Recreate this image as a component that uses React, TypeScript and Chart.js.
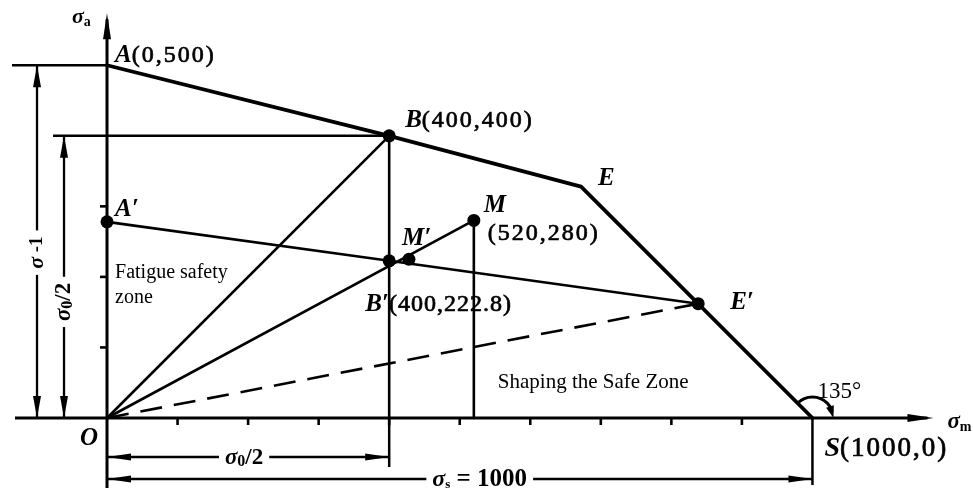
import React, { useEffect, useRef } from 'react';
import { Chart, registerables } from 'chart.js';

Chart.register(...registerables);

// Limit stress diagram: mean stress σm (x) against stress amplitude σa (y), MPa.
// Material limit line A – B – E – S
const limitNames = ['A', 'B', 'E', 'S'];
const limitSm = [0, 400, 672, 1000];
const limitSa = [500, 400, 328, 0];

// Part (reduced) limit line A′ – B′ – E′
const workNames = ['A′', 'B′', 'E′'];
const workSm = [0, 400, 838];
const workSa = [278, 222.8, 162];

// Working point M and its projection M′ on the part limit line
const loadNames = ['M′', 'M'];
const loadSm = [428, 520];
const loadSa = [225, 280];

// Axis tick marks
const xTickValues = [100, 200, 300, 400, 500, 600, 700, 800, 900];
const yTickValues = [100, 200, 300];

const SERIF = '"Liberation Serif", "Times New Roman", serif';
const fItalicBold = (s: number) => `italic bold ${s}px ${SERIF}`;
const fBold = (s: number) => `bold ${s}px ${SERIF}`;
const fReg = (s: number) => `${s}px ${SERIF}`;

type Run = { t: string; font: string; dy?: number; ls?: number; heavy?: boolean };

function runsWidth(ctx: CanvasRenderingContext2D, runs: Run[]) {
  let w = 0;
  for (const r of runs) {
    ctx.font = r.font;
    (ctx as any).letterSpacing = `${r.ls ?? 0}px`;
    w += ctx.measureText(r.t).width;
  }
  return w;
}

function drawRuns(ctx: CanvasRenderingContext2D, x: number, y: number, runs: Run[]) {
  let cx = x;
  for (const r of runs) {
    ctx.font = r.font;
    (ctx as any).letterSpacing = `${r.ls ?? 0}px`;
    ctx.fillText(r.t, cx, y + (r.dy ?? 0));
    if (r.heavy) {
      // slightly heavier strokes for the coordinate numbers
      ctx.lineWidth = 0.7;
      ctx.strokeStyle = '#000';
      ctx.strokeText(r.t, cx, y + (r.dy ?? 0));
    }
    cx += ctx.measureText(r.t).width;
  }
  (ctx as any).letterSpacing = '0px';
}

function arrowHead(
  ctx: CanvasRenderingContext2D,
  tipX: number,
  tipY: number,
  dirX: number,
  dirY: number,
  len = 22,
  half = 4
) {
  const n = Math.hypot(dirX, dirY);
  const ux = dirX / n;
  const uy = dirY / n;
  const bx = tipX - ux * len;
  const by = tipY - uy * len;
  ctx.beginPath();
  ctx.moveTo(tipX, tipY);
  ctx.lineTo(bx - uy * half, by + ux * half);
  ctx.lineTo(bx + uy * half, by - ux * half);
  ctx.closePath();
  ctx.fill();
}

function seg(ctx: CanvasRenderingContext2D, x1: number, y1: number, x2: number, y2: number, w: number) {
  ctx.lineWidth = w;
  ctx.beginPath();
  ctx.moveTo(x1, y1);
  ctx.lineTo(x2, y2);
  ctx.stroke();
}

// Dimension line with arrows at both ends and a label sitting in a gap
function dimension(
  ctx: CanvasRenderingContext2D,
  vertical: boolean,
  fixed: number,
  a: number,
  b: number,
  center: number,
  runs: Run[]
) {
  const w = runsWidth(ctx, runs);
  const g1 = center - w / 2 - 6;
  const g2 = center + w / 2 + 6;
  ctx.lineCap = 'butt';
  if (vertical) {
    seg(ctx, fixed, a, fixed, g1, 2.3);
    seg(ctx, fixed, g2, fixed, b, 2.3);
    arrowHead(ctx, fixed, a, 0, -1, 22, 4);
    arrowHead(ctx, fixed, b, 0, 1, 22, 4);
    ctx.save();
    ctx.translate(fixed, center);
    ctx.rotate(-Math.PI / 2);
    ctx.textBaseline = 'middle';
    drawRuns(ctx, -w / 2, 0, runs);
    ctx.restore();
  } else {
    seg(ctx, a, fixed, g1, fixed, 2.3);
    seg(ctx, g2, fixed, b, fixed, 2.3);
    arrowHead(ctx, a, fixed, -1, 0, 24, 3.5);
    arrowHead(ctx, b, fixed, 1, 0, 24, 3.5);
    ctx.save();
    ctx.textBaseline = 'middle';
    drawRuns(ctx, center - w / 2, fixed + 1, runs);
    ctx.restore();
  }
}

const diagramPlugin = {
  id: 'limitDiagram',
  beforeDatasetsDraw(chart: any) {
    const { ctx, scales } = chart;
    const px = (v: number) => scales.x.getPixelForValue(v);
    const py = (v: number) => scales.y.getPixelForValue(v);
    const ox = px(0);
    const oy = py(0);
    ctx.save();
    ctx.strokeStyle = '#000';
    ctx.fillStyle = '#000';
    ctx.lineCap = 'butt';

    // axes
    const xEnd = px(limitSm[3]) + 121;
    const yTop = py(limitSa[0]) - 52;
    seg(ctx, ox - 92, oy, xEnd - 6, oy, 3);
    arrowHead(ctx, xEnd, oy, 1, 0, 26, 4);
    seg(ctx, ox, oy + 70, ox, yTop + 6, 3);
    arrowHead(ctx, ox, yTop, 0, -1, 26, 4);

    // ticks
    for (const t of xTickValues) seg(ctx, px(t), oy, px(t), oy + 7, 2.6);
    for (const t of yTickValues) seg(ctx, ox, py(t), ox - 7, py(t), 2.6);

    // extension lines
    seg(ctx, ox - 95, py(limitSa[0]), ox, py(limitSa[0]), 2.5);
    seg(ctx, ox - 54, py(limitSa[1]), px(limitSm[1]), py(limitSa[1]), 2.5);
    seg(ctx, px(limitSm[1]), oy, px(limitSm[1]), oy + 49, 2.5);
    seg(ctx, px(limitSm[3]), oy, px(limitSm[3]), oy + 67, 2.5);

    // dimensions
    dimension(ctx, true, ox - 70, py(limitSa[0]), oy, (py(limitSa[0]) + oy) / 2 + 11, [
      { t: 'σ', font: fItalicBold(22) },
      { t: ' -1', font: fBold(19) },
    ]);
    dimension(ctx, true, ox - 43, py(limitSa[1]), oy, (py(limitSa[1]) + oy) / 2 + 25, [
      { t: 'σ', font: fItalicBold(23) },
      { t: '0', font: fBold(16), dy: 4 },
      { t: '/2', font: fBold(23) },
    ]);
    dimension(ctx, false, oy + 39, ox, px(limitSm[1]), (ox + px(limitSm[1])) / 2 - 4, [
      { t: 'σ', font: fItalicBold(23) },
      { t: '0', font: fBold(16), dy: 4 },
      { t: '/2', font: fBold(23) },
    ]);
    dimension(ctx, false, oy + 61, ox, px(limitSm[3]), (ox + px(limitSm[3])) / 2 + 20, [
      { t: 'σ', font: fItalicBold(24) },
      { t: 's', font: fBold(13), dy: 5 },
      { t: ' = ' + limitSm[3], font: fBold(25) },
    ]);

    // 135° angle mark at S, from the limit line round to the σm axis
    const sx = px(limitSm[3]);
    const r = 21;
    ctx.lineWidth = 3;
    ctx.beginPath();
    ctx.arc(sx, oy, r, -Math.PI * 0.75, -0.3);
    ctx.stroke();
    arrowHead(ctx, sx + r, oy, 0.3, 1, 12, 4);
    ctx.restore();
  },
  afterDatasetsDraw(chart: any) {
    const { ctx, scales } = chart;
    const px = (v: number) => scales.x.getPixelForValue(v);
    const py = (v: number) => scales.y.getPixelForValue(v);
    const ox = px(0);
    const oy = py(0);
    ctx.save();
    ctx.fillStyle = '#000';
    ctx.textBaseline = 'alphabetic';
    ctx.textAlign = 'left';

    const L = (name: string): Run => ({ t: name, font: fItalicBold(25) });
    const N = (t: string, size = 24, ls = 2): Run => ({ t, font: fReg(size), ls, heavy: true });
    const pair = (x: number, y: number) => `(${x},${y})`;

    // material limit line labels
    drawRuns(ctx, px(limitSm[0]) + 8, py(limitSa[0]) - 3, [L(limitNames[0]), N(pair(limitSm[0], limitSa[0]))]);
    drawRuns(ctx, px(limitSm[1]) + 16, py(limitSa[1]) - 9, [L(limitNames[1]), N(pair(limitSm[1], limitSa[1]))]);
    drawRuns(ctx, px(limitSm[2]) + 17, py(limitSa[2]) - 2, [L(limitNames[2])]);
    drawRuns(ctx, px(limitSm[3]) + 12, py(limitSa[3]) + 38, [
      { t: limitNames[3], font: fItalicBold(28) },
      N(pair(limitSm[3], limitSa[3]), 27),
    ]);

    // part limit line labels
    drawRuns(ctx, px(workSm[0]) + 8, py(workSa[0]) - 6, [L(workNames[0])]);
    drawRuns(ctx, px(workSm[1]) - 24, py(workSa[1]) + 50, [
      L(workNames[1]),
      N(pair(workSm[1], workSa[1]), 24, 1),
    ]);
    drawRuns(ctx, px(workSm[2]) + 32, py(workSa[2]) + 5, [L(workNames[2])]);

    // working point labels
    drawRuns(ctx, px(loadSm[0]) - 7, py(loadSa[0]) - 14, [L(loadNames[0])]);
    drawRuns(ctx, px(loadSm[1]) + 10, py(loadSa[1]) - 8, [L(loadNames[1])]);
    drawRuns(ctx, px(loadSm[1]) + 14, py(loadSa[1]) + 20, [N(pair(loadSm[1], loadSa[1]))]);

    // origin and axis titles
    drawRuns(ctx, ox - 27, oy + 27, [{ t: 'O', font: fItalicBold(25) }]);
    drawRuns(ctx, ox - 35, 23, [
      { t: 'σ', font: fItalicBold(22) },
      { t: 'a', font: fBold(14), dy: 3 },
    ]);
    drawRuns(ctx, px(limitSm[3]) + 135, oy + 10, [
      { t: 'σ', font: fItalicBold(23) },
      { t: 'm', font: fBold(14), dy: 3 },
    ]);

    // zone captions and angle
    ctx.font = fReg(20);
    ctx.fillText('Fatigue safety', ox + 8, 278);
    ctx.fillText('zone', ox + 8, 303);
    ctx.font = fReg(21);
    ctx.fillText('Shaping the Safe Zone', px(loadSm[1]) + 24, oy - 30);
    ctx.font = fReg(23);
    ctx.fillText('135°', px(limitSm[3]) + 5, oy - 20);
    ctx.restore();
  },
};

const pts = (xs: number[], ys: number[]) => xs.map((x, i) => ({ x, y: ys[i] }));

export default function App() {
  const canvasRef = useRef<HTMLCanvasElement | null>(null);

  useEffect(() => {
    const canvas = canvasRef.current;
    if (!canvas) return;
    const origin = { x: 0, y: 0 };
    const line = (data: { x: number; y: number }[], extra: Record<string, unknown> = {}) => ({
      data,
      showLine: true,
      borderColor: '#000',
      backgroundColor: '#000',
      borderWidth: 2.6,
      pointRadius: 0,
      pointBorderWidth: 0,
      borderCapStyle: 'round',
      borderJoinStyle: 'round',
      clip: false,
      ...extra,
    });

    const chart = new Chart(canvas, {
      type: 'scatter',
      data: {
        datasets: [
          line(pts(limitSm, limitSa), { borderWidth: 3.8, pointRadius: [0, 6.5, 0, 0] }),
          line(pts(workSm, workSa), { borderWidth: 2.6, pointRadius: 6.5 }),
          line([origin, { x: limitSm[1], y: limitSa[1] }]),
          line([origin, { x: loadSm[1], y: loadSa[1] }]),
          line([origin, { x: workSm[2], y: workSa[2] }], { borderDash: [22, 12], borderCapStyle: 'butt' }),
          line([{ x: limitSm[1], y: limitSa[1] }, { x: limitSm[1], y: 0 }]),
          line([{ x: loadSm[1], y: loadSa[1] }, { x: loadSm[1], y: 0 }]),
          line(pts(loadSm, loadSa), { showLine: false, pointRadius: 6.5 }),
        ] as any,
      },
      options: {
        responsive: false,
        animation: false,
        devicePixelRatio: 1,
        events: [],
        layout: { padding: 0, autoPadding: false },
        plugins: { legend: { display: false }, tooltip: { enabled: false }, title: { display: false } },
        scales: {
          x: { type: 'linear', min: -151.7, max: 1227.6, display: false },
          y: { type: 'linear', min: -104.9, max: 592.5, display: false },
        },
      } as any,
      plugins: [diagramPlugin],
    });
    return () => chart.destroy();
  }, []);

  return (
    <div style={{ position: 'fixed', left: 0, top: 0, width: 973, height: 492, background: '#fff' }}>
      <canvas ref={canvasRef} width={973} height={492} style={{ display: 'block' }} />
    </div>
  );
}
